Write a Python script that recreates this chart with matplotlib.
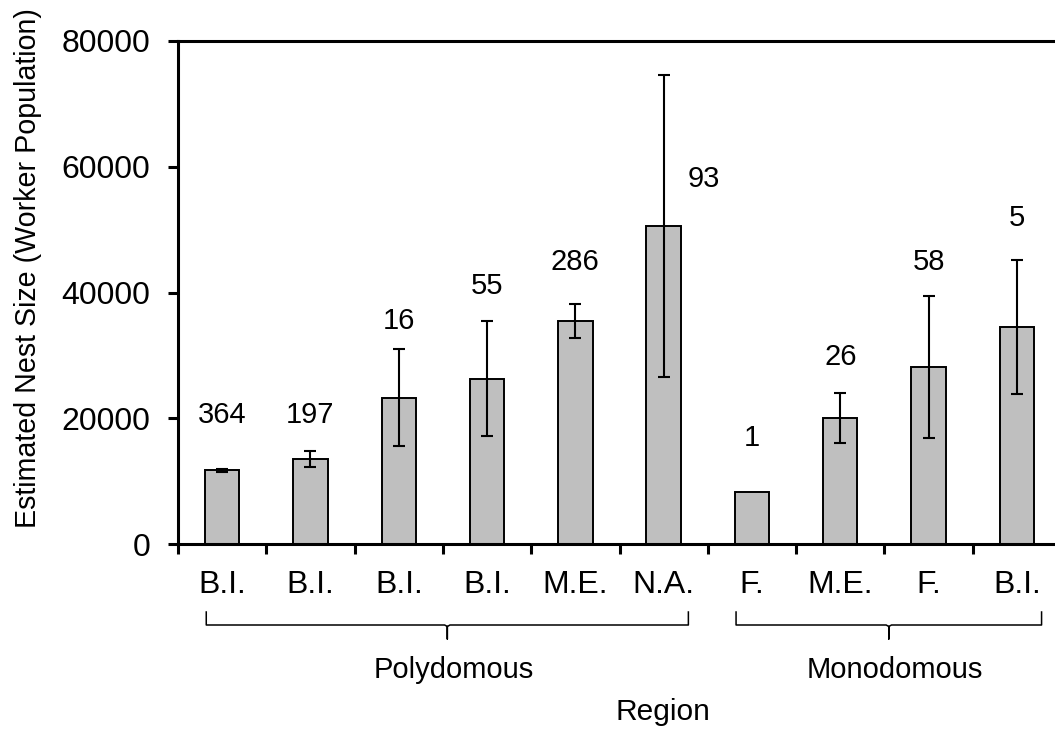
import matplotlib.pyplot as plt
import numpy as np

plt.rcParams['font.family'] = ['Liberation Sans', 'DejaVu Sans']

# nest size by region, grouped by colony structure
regions = ["B.I.", "B.I.", "B.I.", "B.I.", "M.E.", "N.A.", "F.", "M.E.", "F.", "B.I."]
nest_size = [11700, 13500, 23300, 26300, 35500, 50600, 8300, 20000, 28200, 34500]
nest_err = [300, 1300, 7700, 9200, 2700, 24000, 0, 4000, 11300, 10700]
n_nests = ["364", "197", "16", "55", "286", "93", "1", "26", "58", "5"]
groups = ["Polydomous", "Monodomous"]
group_span = [(0, 5), (6, 9)]

# where the sample-size labels sit (data units)
lab_x = [0, 1, 2, 3, 4, 5.45, 6, 7, 8, 9]
lab_y = [20500, 20500, 35500, 41100, 44800, 58000, 16800, 29800, 44800, 51900]

fig = plt.figure(figsize=(10.55, 7.29), dpi=100)
ax = fig.add_axes([178/1055, 1-544/729, 883/1055, 503/729])

x = np.arange(len(regions))
ax.bar(x, nest_size, width=0.39, color="#bfbfbf", edgecolor="black", linewidth=1.4, zorder=2)
err = np.array(nest_err, dtype=float)
mask = err > 0
ax.errorbar(x[mask], np.array(nest_size)[mask], yerr=err[mask], fmt="none",
            ecolor="black", elinewidth=1.5, capsize=4.3, capthick=1.5, zorder=3)

for xi, yi, t in zip(lab_x, lab_y, n_nests):
    ax.text(xi, yi, t, ha="center", va="center", fontsize=21)

ax.set_xlim(-0.5, len(regions) - 0.5)
ax.set_ylim(0, 80000)
ax.set_yticks([0, 20000, 40000, 60000, 80000])
ax.set_xticks(np.arange(len(regions) + 1) - 0.5)
ax.set_xticklabels([])
ax.set_xticks(x, minor=True)
ax.set_xticklabels(regions, minor=True)
ax.tick_params(axis="x", which="minor", length=0, pad=19, labelsize=23)
ax.tick_params(axis="x", which="major", direction="out", length=7, width=2.2)
ax.tick_params(axis="y", direction="out", length=7, width=2.2, pad=13, labelsize=23)
for s in ax.spines.values():
    s.set_linewidth(2.2)

# braces under the region labels
trans = ax.get_xaxis_transform()
y_top, y_mid, y_tip = -68/503, -81/503, -95/503
for (a, b), name in zip(group_span, groups):
    left, right = a - 0.18, b + 0.28
    mid = (left + right) / 2
    ax.plot([left, left, mid - 0.03, mid, mid, mid, mid + 0.03, right, right],
            [y_top, y_mid, y_mid, y_mid - 0.003, y_tip, y_mid - 0.003, y_mid, y_mid, y_top],
            transform=trans, color="black", lw=1.1, clip_on=False)
    ax.text(mid + 0.07, -126/503, name, transform=trans, ha="center", va="center", fontsize=21)

fig.text(663/1055, 1-712/729, "Region", ha="center", va="center", fontsize=21.5)
fig.text(28/1055, 1-268/729, "Estimated Nest Size (Worker Population)",
         ha="center", va="center", rotation=90, fontsize=20.6)

fig.savefig("out.png", dpi=100)
